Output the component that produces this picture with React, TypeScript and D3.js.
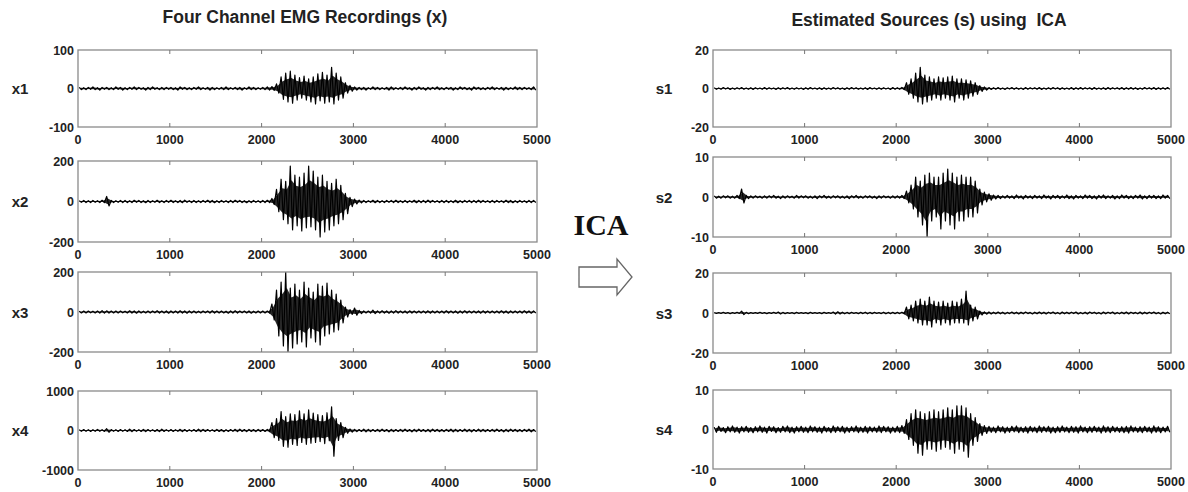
import React, { useEffect, useRef } from 'react';
import * as d3 from 'd3';

// sample axis
const sampleTicks = [0, 1000, 2000, 3000, 4000, 5000];
const binSize = 50; // each envelope value covers 50 samples (100 bins over 0..5000)

// channel names and y limits (symmetric)
const leftNames = ['x1', 'x2', 'x3', 'x4'];
const leftLimits = [100, 200, 200, 1000];
const rightNames = ['s1', 's2', 's3', 's4'];
const rightLimits = [20, 10, 20, 10];

// envelope (max / min per 50-sample bin)
const x1Hi = [3,2,3,4,2,3,3,2,4,3, 2,3,4,3,2,3,4,2,3,3, 3,2,4,3,2,3,4,2,3,3, 2,3,4,2,3,3,2,4,3,2,
  3,4,5,12, 30,40,45,35,28,32,25,30,38,42,35,55,40,30,15,8,
  4,3,3,2,4,3,2,3,4,2, 3,4,2,3,4,2,3,3,4,2, 3,3,2,4,3,2,4,3,2,3, 4,2,3,3,2,4,3,3,2,4];
const x1Lo = [-3,-3,-2,-3,-4,-2,-3,-3,-2,-4, -3,-2,-3,-2,-4,-3,-2,-3,-3,-2, -3,-4,-2,-3,-3,-2,-3,-2,-4,-3, -2,-3,-3,-2,-3,-4,-2,-3,-3,-2,
  -3,-4,-5,-12, -28,-35,-38,-30,-25,-30,-35,-40,-32,-38,-35,-40,-30,-25,-12,-7,
  -4,-3,-4,-2,-3,-3,-2,-4,-3,-2, -3,-2,-4,-3,-2,-4,-3,-2,-3,-3, -2,-4,-3,-2,-3,-4,-2,-3,-3,-2, -3,-2,-4,-3,-2,-3,-3,-2,-3,-4];

const x2Hi = [4,5,4,5,4,6,25,5,4,5, 5,4,6,5,4,5,4,6,4,5, 6,4,5,7,4,5,4,5,6,5, 4,5,4,5,6,5,4,4,5,4,
  5,6,15,60, 110,100,175,130,120,140,175,150,120,130,100,90,110,80,40,20,
  12,7,5,4,6,5,4,5,5,6, 4,5,4,6,5,5,7,5,4,5, 5,4,6,4,5,5,5,6,5,4, 5,5,4,6,5,4,5,4,5,5];
const x2Lo = [-4,-5,-5,-4,-5,-5,-22,-5,-4,-5, -5,-5,-4,-5,-6,-5,-4,-5,-5,-4, -5,-5,-6,-4,-5,-5,-5,-4,-5,-6, -5,-4,-5,-5,-4,-5,-6,-5,-4,-5,
  -5,-5,-15,-50, -90,-110,-140,-120,-145,-130,-125,-140,-175,-150,-140,-120,-110,-90,-60,-25,
  -12,-7,-5,-4,-6,-5,-5,-4,-5,-5, -5,-5,-4,-6,-5,-5,-5,-4,-5,-5, -5,-5,-6,-5,-4,-5,-5,-5,-4,-5, -5,-4,-5,-5,-6,-5,-4,-5,-5,-5];

const x3Hi = [4,5,5,4,5,7,6,5,5,5, 4,6,5,5,4,5,5,6,5,5, 5,5,6,5,5,5,4,5,5,6, 5,5,4,5,6,5,5,5,4,5,
  5,5,40,110, 150,200,120,140,110,150,120,100,140,130,145,110,90,60,25,12,
  20,8,5,5,9,5,6,5,5,7, 5,5,6,5,5,5,6,5,5,5, 6,5,5,5,6,5,5,5,6,5, 5,5,6,5,5,5,5,6,5,5];
const x3Lo = [-5,-5,-4,-5,-5,-6,-5,-5,-5,-4, -5,-5,-6,-5,-5,-5,-4,-5,-5,-6, -5,-5,-5,-6,-5,-5,-5,-4,-5,-5, -5,-5,-6,-5,-5,-4,-5,-6,-5,-5,
  -5,-5,-40,-120, -170,-200,-180,-160,-150,-175,-130,-150,-165,-120,-110,-100,-90,-55,-25,-12,
  -16,-8,-5,-5,-8,-5,-5,-6,-5,-5, -5,-6,-5,-5,-5,-5,-6,-5,-5,-5, -5,-5,-6,-5,-5,-5,-5,-6,-5,-5, -5,-5,-5,-6,-5,-5,-5,-5,-6,-5];

const x4Hi = [20,25,22,20,28,22,45,25,22,25, 22,35,25,22,30,25,22,25,35,22, 25,22,30,25,22,25,35,30,25,22, 30,25,22,25,30,35,25,30,25,30,
  25,30,200,300, 480,350,420,400,500,420,520,440,400,380,450,600,300,200,80,40,
  30,25,35,30,25,30,35,25,30,25, 30,35,25,30,35,25,30,35,30,25, 30,35,30,25,35,30,25,35,30,25, 30,35,25,30,35,30,25,30,35,25];
const x4Lo = [-20,-22,-25,-20,-22,-25,-45,-22,-25,-22, -25,-30,-22,-25,-30,-22,-25,-30,-25,-22, -25,-22,-30,-25,-22,-25,-30,-25,-22,-25, -25,-30,-25,-22,-30,-25,-30,-25,-30,-25,
  -25,-30,-180,-250, -400,-420,-350,-380,-300,-350,-320,-300,-280,-330,-260,-650,-250,-180,-70,-40,
  -30,-25,-35,-30,-25,-30,-25,-35,-30,-25, -30,-25,-35,-30,-25,-30,-35,-25,-30,-30, -25,-35,-30,-25,-30,-35,-25,-30,-30,-25, -30,-25,-35,-30,-25,-30,-30,-25,-35,-30];

const s1Hi = [0.4,0.3,0.5,0.4,0.3,0.4,0.5,0.3,0.4,0.4, 0.3,0.5,0.4,0.3,0.4,0.4,0.5,0.3,0.4,0.3, 0.4,0.5,0.3,0.4,0.4,0.3,0.5,0.4,0.3,0.4, 0.5,0.4,0.3,0.4,0.5,0.3,0.4,0.4,0.3,0.5,
  0.4,0.6,3,5, 8,11,7,6,5,6,5.5,6,6.5,5,5,4.5,4,3,1.5,0.8,
  0.5,0.4,0.5,0.3,0.4,0.5,0.4,0.3,0.5,0.4, 0.4,0.5,0.3,0.4,0.5,0.4,0.4,0.3,0.5,0.4, 0.5,0.4,0.4,0.5,0.3,0.4,0.5,0.4,0.4,0.5, 0.4,0.5,0.4,0.3,0.5,0.4,0.5,0.4,0.4,0.5];
const s1Lo = [-0.4,-0.4,-0.3,-0.5,-0.4,-0.3,-0.4,-0.4,-0.5,-0.3, -0.4,-0.4,-0.3,-0.5,-0.4,-0.3,-0.4,-0.4,-0.3,-0.5, -0.4,-0.3,-0.4,-0.5,-0.4,-0.4,-0.3,-0.4,-0.5,-0.4, -0.3,-0.4,-0.4,-0.5,-0.3,-0.4,-0.4,-0.3,-0.5,-0.4,
  -0.4,-0.6,-3,-5, -7,-8,-7,-6,-5,-6,-5,-6,-7,-5,-6,-5,-4,-3,-1.5,-0.8,
  -0.5,-0.4,-0.4,-0.5,-0.3,-0.4,-0.4,-0.5,-0.4,-0.3, -0.4,-0.5,-0.4,-0.4,-0.3,-0.5,-0.4,-0.4,-0.5,-0.4, -0.4,-0.3,-0.5,-0.4,-0.4,-0.5,-0.4,-0.3,-0.4,-0.5, -0.4,-0.4,-0.5,-0.4,-0.3,-0.4,-0.5,-0.4,-0.4,-0.4];

const s2Hi = [0.3,0.2,0.3,0.3,0.2,0.4,2.0,0.4,0.3,0.3, 0.2,0.3,0.3,0.4,0.2,0.3,0.3,0.2,0.4,0.3, 0.3,0.2,0.3,0.3,0.4,0.2,0.3,0.3,0.2,0.3, 0.3,0.4,0.2,0.3,0.3,0.2,0.3,0.3,0.2,0.3,
  0.3,0.4,1.5,3, 5,4,5.5,6,5,5,6,7,6,5,5.5,5,5,4,2,1.2,
  0.8,0.5,0.4,0.3,0.4,0.3,0.5,0.3,0.4,0.3, 0.4,0.3,0.5,0.3,0.4,0.4,0.3,0.5,0.3,0.4, 0.3,0.5,0.4,0.3,0.4,0.5,0.3,0.4,0.3,0.5, 0.4,0.3,0.4,0.5,0.3,0.4,0.4,0.3,0.5,0.4];
const s2Lo = [-0.3,-0.3,-0.2,-0.3,-0.3,-0.4,-1.5,-0.4,-0.3,-0.2, -0.3,-0.3,-0.2,-0.3,-0.4,-0.3,-0.2,-0.3,-0.3,-0.2, -0.3,-0.3,-0.4,-0.2,-0.3,-0.3,-0.2,-0.3,-0.3,-0.4, -0.2,-0.3,-0.3,-0.2,-0.3,-0.4,-0.3,-0.2,-0.3,-0.3,
  -0.3,-0.4,-1.5,-3, -5,-7,-10,-6,-5,-8,-6,-7,-8,-6,-6,-5,-5,-4,-2,-1.2,
  -0.8,-0.5,-0.4,-0.3,-0.3,-0.4,-0.3,-0.5,-0.3,-0.4, -0.3,-0.4,-0.3,-0.5,-0.3,-0.4,-0.3,-0.4,-0.5,-0.3, -0.4,-0.3,-0.4,-0.5,-0.3,-0.4,-0.3,-0.5,-0.4,-0.3, -0.4,-0.4,-0.3,-0.5,-0.4,-0.3,-0.4,-0.4,-0.3,-0.4];

const s3Hi = [0.2,0.2,0.3,0.2,0.2,0.3,0.9,0.3,0.2,0.2, 0.3,0.2,0.2,0.3,0.5,0.3,0.2,0.2,0.3,0.2, 0.2,0.3,0.2,0.2,0.3,0.2,0.5,0.6,0.4,0.3, 0.3,0.2,0.3,0.4,0.3,0.3,0.2,0.4,0.3,0.3,
  0.3,0.4,3,4, 6,7,6,8,6,5.5,6,5,6,5.5,7,11,4,3,1,0.6,
  0.5,0.4,0.5,0.4,0.3,0.5,0.4,0.4,0.5,0.3, 0.4,0.5,0.4,0.4,0.5,0.3,0.5,0.4,0.4,0.5, 0.3,0.4,0.5,0.4,0.3,0.5,0.4,0.5,0.3,0.4, 0.5,0.4,0.3,0.5,0.4,0.4,0.5,0.3,0.4,0.4];
const s3Lo = [-0.2,-0.2,-0.2,-0.3,-0.2,-0.2,-0.8,-0.3,-0.2,-0.2, -0.2,-0.3,-0.2,-0.2,-0.5,-0.3,-0.2,-0.3,-0.2,-0.2, -0.3,-0.2,-0.2,-0.3,-0.2,-0.2,-0.5,-0.5,-0.4,-0.3, -0.2,-0.3,-0.3,-0.4,-0.3,-0.2,-0.3,-0.4,-0.3,-0.3,
  -0.3,-0.4,-3,-4, -5,-6,-6,-7,-5,-6,-5,-6,-5,-5,-5,-6,-4,-3,-1,-0.6,
  -0.5,-0.4,-0.4,-0.5,-0.3,-0.4,-0.5,-0.4,-0.3,-0.5, -0.4,-0.4,-0.5,-0.3,-0.4,-0.5,-0.4,-0.4,-0.3,-0.5, -0.4,-0.5,-0.3,-0.4,-0.5,-0.4,-0.3,-0.5,-0.4,-0.4, -0.5,-0.3,-0.4,-0.5,-0.4,-0.3,-0.4,-0.5,-0.4,-0.4];

const s4Hi = [0.6,0.8,0.5,0.7,0.9,0.6,0.7,0.8,0.5,0.7, 0.9,0.6,0.8,0.7,0.5,0.8,0.9,0.6,0.7,0.8, 0.6,0.9,0.7,0.6,0.8,0.5,0.9,0.7,0.8,0.6, 0.7,0.9,0.6,0.8,0.7,0.6,0.9,0.8,0.7,0.6,
  0.8,1.0,2.5,4, 5,4.5,4,4.5,5,4.5,5,5.5,5,6,6,5.5,4,3,1.5,1.0,
  0.8,0.6,0.9,0.7,0.6,0.8,0.9,0.6,0.7,0.8, 0.6,0.9,0.7,0.8,0.6,0.7,0.9,0.6,0.8,0.7, 0.9,0.6,0.7,0.8,0.6,0.9,0.7,0.8,0.6,0.7, 0.8,0.9,0.6,0.7,0.8,0.6,0.9,0.7,0.6,0.8];
const s4Lo = [-0.7,-0.5,-0.8,-0.6,-0.7,-0.9,-0.6,-0.7,-0.8,-0.6, -0.7,-0.9,-0.5,-0.8,-0.7,-0.6,-0.8,-0.9,-0.6,-0.7, -0.8,-0.6,-0.7,-0.9,-0.6,-0.8,-0.7,-0.6,-0.9,-0.7, -0.6,-0.8,-0.7,-0.9,-0.6,-0.7,-0.8,-0.6,-0.9,-0.7,
  -0.8,-1.0,-2.5,-4, -6,-6.5,-5,-5,-5.5,-5,-4.5,-5,-6,-5,-5.5,-7,-4,-3,-1.5,-1.0,
  -0.7,-0.8,-0.6,-0.9,-0.7,-0.6,-0.8,-0.7,-0.9,-0.6, -0.8,-0.7,-0.6,-0.9,-0.8,-0.7,-0.6,-0.8,-0.7,-0.9, -0.6,-0.8,-0.7,-0.6,-0.9,-0.7,-0.8,-0.6,-0.7,-0.8, -0.9,-0.6,-0.7,-0.8,-0.6,-0.9,-0.7,-0.8,-0.6,-0.7];

const leftSignals = [[x1Hi, x1Lo], [x2Hi, x2Lo], [x3Hi, x3Lo], [x4Hi, x4Lo]];
const rightSignals = [[s1Hi, s1Lo], [s2Hi, s2Lo], [s3Hi, s3Lo], [s4Hi, s4Lo]];

const W = 1188;
const H = 492;
const FONT = '"Liberation Sans", Arial, Helvetica, sans-serif';

// panel boxes
const columns = [
  { x0: 78, x1: 537, labelX: 20, titleX: 305, rows: [[50, 127], [161, 242], [272, 352], [391, 470]] },
  { x0: 713, x1: 1171, labelX: 664, titleX: 929, rows: [[50, 127], [157, 237], [273, 353], [390, 469]] },
];

export default function App() {
  const ref = useRef<SVGSVGElement>(null);

  useEffect(() => {
    const svg = d3.select(ref.current);
    svg.selectAll('*').remove();

    const groups = [
      { names: leftNames, limits: leftLimits, signals: leftSignals, col: columns[0] },
      { names: rightNames, limits: rightLimits, signals: rightSignals, col: columns[1] },
    ];

    groups.forEach((grp, gi) => {
      const col = grp.col;
      const x = d3.scaleLinear().domain([0, 5000]).range([col.x0, col.x1]);

      grp.names.forEach((name, i) => {
        const [top, bottom] = col.rows[i];
        const lim = grp.limits[i];
        const y = d3.scaleLinear().domain([-lim, lim]).range([bottom, top]);
        const [hi, lo] = grp.signals[i];
        const g = svg.append('g');

        const clipId = `clip-${gi}-${i}`;
        svg.append('clipPath').attr('id', clipId)
          .append('rect')
          .attr('x', col.x0).attr('y', top)
          .attr('width', col.x1 - col.x0).attr('height', bottom - top);

        // zigzag through max/min of every bin
        const pts: [number, number][] = [];
        hi.forEach((v, k) => {
          pts.push([k * binSize + binSize * 0.25, v]);
          pts.push([k * binSize + binSize * 0.75, lo[k]]);
        });
        const line = d3.line<[number, number]>().x(d => x(d[0])).y(d => y(d[1]));
        // dense core of the signal
        const area = d3.area<number>()
          .x((_, k) => x(k * binSize + binSize / 2))
          .y0((d) => y(d * 0.6))
          .y1((_, k) => y(lo[k] * 0.6))
          .curveMonotoneX;

        const sig = g.append('g').attr('clip-path', `url(#${clipId})`);
        sig.append('path')
          .attr('d', d3.area<number>()
            .x((_, k) => x(k * binSize + binSize / 2))
            .y0((d) => y(d * 0.6))
            .y1((_, k) => y(lo[k] * 0.6))(hi) as string)
          .attr('fill', '#111').attr('opacity', 0.9);
        sig.append('path').attr('d', line(pts) as string)
          .attr('fill', 'none').attr('stroke', '#000').attr('stroke-width', 1.2)
          .attr('stroke-linejoin', 'round');

        // box
        g.append('rect')
          .attr('x', col.x0).attr('y', top)
          .attr('width', col.x1 - col.x0).attr('height', bottom - top)
          .attr('fill', 'none').attr('stroke', '#8a8a8a').attr('stroke-width', 1.3);

        // ticks top & bottom
        sampleTicks.slice(1, -1).forEach(t => {
          g.append('line').attr('x1', x(t)).attr('x2', x(t))
            .attr('y1', top).attr('y2', top + 4).attr('stroke', '#777');
          g.append('line').attr('x1', x(t)).attr('x2', x(t))
            .attr('y1', bottom).attr('y2', bottom - 4).attr('stroke', '#777');
        });

        // x tick labels
        g.selectAll('text.xt').data(sampleTicks).enter().append('text')
          .attr('x', d => x(d)).attr('y', bottom + 17)
          .attr('text-anchor', 'middle')
          .attr('font-family', FONT).attr('font-size', 12.5).attr('font-weight', 'bold')
          .attr('fill', '#222')
          .text(d => String(d));

        // y tick labels
        g.selectAll('text.yt').data([-lim, 0, lim]).enter().append('text')
          .attr('x', col.x0 - 4).attr('y', d => y(d) + 4.5)
          .attr('text-anchor', 'end')
          .attr('font-family', FONT).attr('font-size', 12.5).attr('font-weight', 'bold')
          .attr('fill', '#222')
          .text(d => String(d));

        // channel name
        g.append('text')
          .attr('x', col.labelX).attr('y', y(0) + 5.5)
          .attr('text-anchor', 'middle')
          .attr('font-family', FONT).attr('font-size', 15).attr('font-weight', 'bold')
          .attr('fill', '#222')
          .text(name);
      });
    });

    // titles
    svg.append('text')
      .attr('x', columns[0].titleX).attr('y', 23)
      .attr('text-anchor', 'middle')
      .attr('font-family', FONT).attr('font-size', 17.5).attr('font-weight', 'bold')
      .attr('fill', '#222')
      .text('Four Channel EMG Recordings (x)');
    svg.append('text')
      .attr('x', columns[1].titleX).attr('y', 26)
      .attr('text-anchor', 'middle')
      .attr('font-family', FONT).attr('font-size', 17.5).attr('font-weight', 'bold')
      .attr('fill', '#222')
      .attr('xml:space', 'preserve')
      .text('Estimated Sources (s) using  ICA');

    // ICA label and arrow
    svg.append('text')
      .attr('x', 601).attr('y', 235)
      .attr('text-anchor', 'middle')
      .attr('font-family', '"Liberation Serif", "Times New Roman", serif')
      .attr('font-size', 30).attr('font-weight', 'bold')
      .attr('fill', '#111')
      .text('ICA');
    svg.append('path')
      .attr('d', 'M579,267 L617,267 L617,259 L632,277 L617,295 L617,287 L579,287 Z')
      .attr('fill', '#fff').attr('stroke', '#666').attr('stroke-width', 1.3);
  }, []);

  return (
    <svg ref={ref} width={W} height={H}
      style={{ position: 'absolute', left: 0, top: 0, background: '#fff' }} />
  );
}
